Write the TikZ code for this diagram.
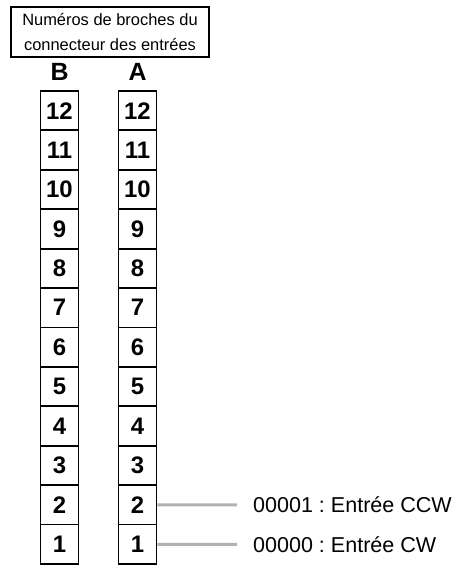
\documentclass[tikz,border=0pt]{standalone}
\usepackage{fontspec}
\setmainfont{Liberation Sans}
\frenchspacing
\begin{document}
\begin{tikzpicture}[x=1bp,y=-1bp,
  cell/.style={draw,line width=1.8bp,minimum width=38bp,minimum height=39.42bp,inner sep=0pt,
    font=\fontsize{24}{24}\selectfont\bfseries},
  collabel/.style={inner sep=0pt,font=\fontsize{25}{25}\selectfont\bfseries},
  titlebox/.style={draw,line width=1.2bp,minimum width=198bp,minimum height=50bp,align=center,inner sep=0pt,
    font=\fontsize{16.5}{26}\selectfont},
  lead/.style={draw=gray!60,line width=3bp},
  sig/.style={anchor=west,inner sep=0pt,font=\fontsize{21.6}{22}\selectfont}]
\useasboundingbox (0,0) rectangle (457,568);
\node[titlebox] (title) at (110,32) {Numéros de broches du\\connecteur des entrées};
\node[collabel] (lb) at (59.5,72) {B};
\node[collabel] (la) at (137.5,72) {A};
\foreach \k in {1,...,12}{
  \pgfmathsetmacro{\yy}{564-(\k-0.5)*39.42}
  \node[cell] (b\k) at (59.5,\yy) {\k};
  \node[cell] (a\k) at (137.5,\yy) {\k};
}
\coordinate (e2) at (237,504.9);
\coordinate (e1) at (237,544.3);
\node[sig] (s2) at (253,504.9) {00001 : Entrée CCW};
\node[sig] (s1) at (253,544.3) {00000 : Entrée CW};
\draw[lead] (a2.east) -- (e2);
\draw[lead] (a1.east) -- (e1);
\end{tikzpicture}
\end{document}
